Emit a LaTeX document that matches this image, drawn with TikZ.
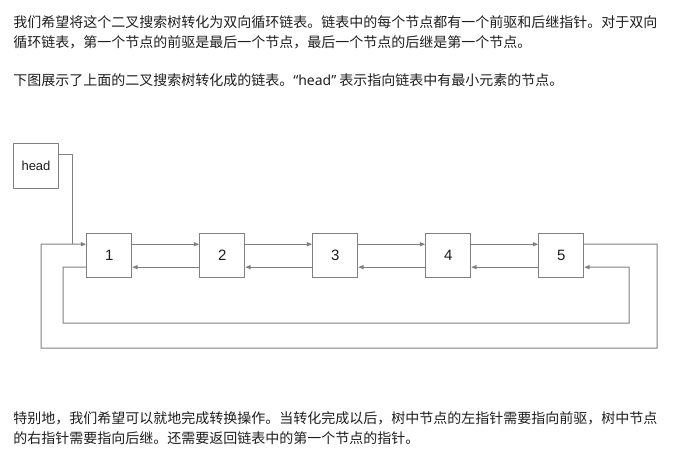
\documentclass[tikz,border=0pt]{standalone}
\usepackage{fontspec}
\setmainfont{Liberation Sans}
\newfontfamily\cjkfont{Noto Sans CJK SC}
\newfontfamily\latinfont{Noto Sans}
\usetikzlibrary{arrows.meta}
\definecolor{linegray}{HTML}{808080}
\definecolor{inkblack}{HTML}{1E1E1E}

\begin{document}
\begin{tikzpicture}[x=0.75pt,y=-0.75pt,
  listnode/.style={draw=linegray, line width=0.75pt, minimum width=33.75pt, minimum height=33pt,
    inner sep=0pt, text=inkblack, font=\fontsize{11.25pt}{13pt}\selectfont},
  link/.style={draw=linegray, line width=0.75pt, -{Triangle[length=4pt,width=3pt]}},
  para/.style={anchor=base west, inner sep=0pt, align=left, text=inkblack,
    font=\cjkfont\fontsize{10.5pt}{15pt}\selectfont}]
  \useasboundingbox (0,0) rectangle (679,451);

  % text above and below the picture (base = last line)
  \node[para] (intro) at (13,47.8) {我们希望将这个二叉搜索树转化为双向循环链表。链表中的每个节点都有一个前驱和后继指针。对于双向\\
    循环链表，第一个节点的前驱是最后一个节点，最后一个节点的后继是第一个节点。};
  \node[para] (caption) at (13,85.8) {下图展示了上面的二叉搜索树转化成的链表。{\latinfont “head”} 表示指向链表中有最小元素的节点。};
  \node[para] (outro) at (13,443) {特别地，我们希望可以就地完成转换操作。当转化完成以后，树中节点的左指针需要指向前驱，树中节点\\
    的右指针需要指向后继。还需要返回链表中的第一个节点的指针。};

  % list nodes
  \node[listnode, minimum height=33.75pt, font=\fontsize{9.75pt}{12pt}\selectfont] (head) at (36,165.8) {head};
  \foreach \i in {1,...,5}
    \node[listnode] (n\i) at ({109.2+113*(\i-1)},255.7) {\i};

  % successor and predecessor links
  \foreach \i/\j in {1/2,2/3,3/4,4/5} {
    \draw[link] ([yshift=8.6pt]n\i.east) -- ([yshift=8.6pt]n\j.west);
    \draw[link] ([yshift=-8.6pt]n\j.west) -- ([yshift=-8.6pt]n\i.east);
  }

  % wrap-around links
  \draw[link] ([yshift=8.6pt]n5.east) -| (657,348) -| (41,244) -- ([yshift=8.6pt]n1.west);
  \draw[link] ([yshift=-8.6pt]n1.west) -| (63,323) -| (629,267) -- ([yshift=-8.6pt]n5.east);

  % head pointer
  \coordinate (join) at (72.3,244);
  \draw[draw=linegray, line width=0.75pt] ([yshift=8.8pt]head.east) -| (join);
\end{tikzpicture}
\end{document}
